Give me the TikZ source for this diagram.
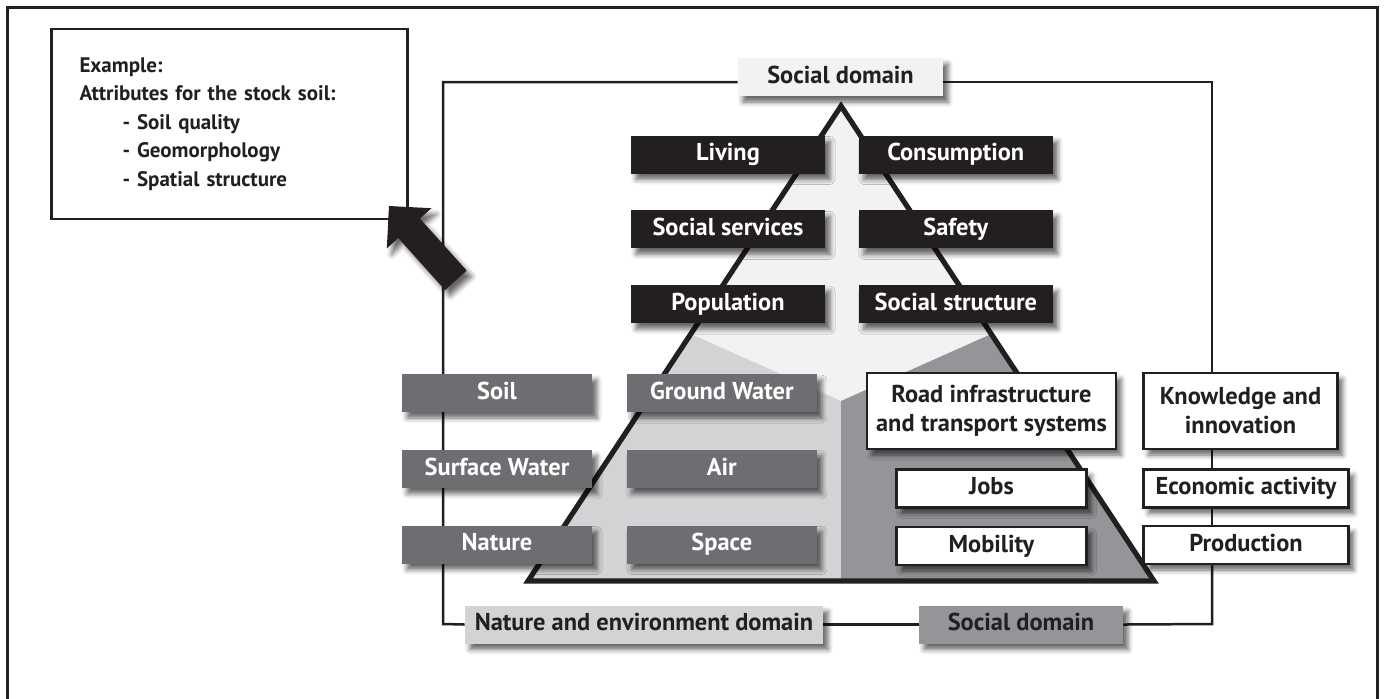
\documentclass[tikz,border=0pt]{standalone}
\usepackage{fontspec}
\setmainfont{PT Sans}
\usetikzlibrary{positioning,shadows.blur,backgrounds}
\definecolor{inkblack}{HTML}{231F20}
\definecolor{darkgrey}{HTML}{6D6E71}
\definecolor{midgrey}{HTML}{939598}
\definecolor{lightgrey}{HTML}{D1D3D4}
\definecolor{palegrey}{HTML}{F1F2F2}
\tikzstyle{base} = [rectangle, text centered, align=center, font=\fontsize{12.2}{14.5}\selectfont\bfseries, text height=9pt, text depth=2.8pt, minimum height=19pt, inner sep=2pt, blur shadow={shadow xshift=2.5pt, shadow yshift=-3pt, shadow blur radius=2.5pt, shadow opacity=60}]
\tikzstyle{block} = [base, fill=inkblack, text=white, minimum width=97pt]
\tikzstyle{blockg} = [base, fill=darkgrey, text=white, minimum width=95pt]
\tikzstyle{blockw} = [base, draw=inkblack, line width=1.25pt, fill=white, text=inkblack, minimum width=95pt]
\tikzstyle{blockw2} = [blockw, text height=, text depth=, minimum height=38pt]
\tikzstyle{blockd} = [base, text=inkblack]
\tikzstyle{exbox} = [rectangle, draw=inkblack, line width=1.25pt, fill=white, text=inkblack, text width=150pt, inner xsep=14pt, minimum height=95pt, align=left, font=\fontsize{10.5}{14.25}\selectfont\bfseries]
\tikzstyle{line} = [draw=inkblack, line width=1.25pt]
\begin{document}
\begin{tikzpicture}[x=0.5pt, y=-0.5pt]
    \useasboundingbox (0,0) rectangle (1384,698);
    \draw[inkblack, line width=1.5pt] (7,7) rectangle (1377,706);
    \node [exbox] (example) at (229.5,124) {Example:\\ Attributes for the stock soil:\\ \hspace*{21.5pt}- Soil quality\\ \hspace*{21.5pt}- Geomorphology\\ \hspace*{21.5pt}- Spatial structure};
    % pyramid
    \coordinate (apex) at (841,106);
    \coordinate (bl) at (528,581);
    \coordinate (br) at (1154,581);
    \fill[palegrey] (apex) -- (br) -- (bl) -- cycle;
    \fill[lightgrey] (690.8,334) -- (841,401) -- (841,581) -- (bl) -- cycle;
    \fill[midgrey] (841,401) -- (991.2,334) -- (br) -- (841,581) -- cycle;
    \draw[inkblack, line width=2.6pt, line join=miter] (apex) -- (br) -- (bl) -- cycle;
    % social domain
    \node [blockd, fill=palegrey, minimum width=102.5pt] (sdtop) at (840.5,77) {Social domain};
    \node [block] (living) at (728,154.5) {Living};
    \node [block, right=16.5pt of living] (consumption) {Consumption};
    \node [block, below=18pt of living] (socserv) {Social services};
    \node [block, below=18pt of consumption] (safety) {Safety};
    \node [block, below=18pt of socserv] (population) {Population};
    \node [block, below=18pt of safety] (socstruct) {Social structure};
    % nature and environment
    \node [blockg] (soil) at (497,393) {Soil};
    \node [blockg, below=18.5pt of soil] (surface) {Surface Water};
    \node [blockg, below=18.5pt of surface] (nature) {Nature};
    \node [blockg, right=17pt of soil] (ground) {Ground Water};
    \node [blockg, below=18.5pt of ground] (air) {Air};
    \node [blockg, below=18.5pt of air] (space) {Space};
    % economic domain
    \node [blockw2, minimum width=124.5pt] (road) at (991.5,411) {Road infrastructure\\and transport systems};
    \node [blockw, below=9pt of road] (jobs) {Jobs};
    \node [blockw, below=8.5pt of jobs] (mobility) {Mobility};
    \node [blockw2, right=12.5pt of road, minimum width=97pt] (knowledge) {Knowledge and\\innovation};
    \node [blockw, below=9pt of knowledge.south west, anchor=north west, minimum width=102.5pt] (econ) {Economic activity};
    \node [blockw, below=8pt of econ, minimum width=102.5pt] (production) {Production};
    % domain labels
    \node [blockd, fill=lightgrey, minimum width=179pt] (natenv) at (644,624.5) {Nature and environment domain};
    \node [blockd, fill=midgrey, minimum width=102pt] (sdbot) at (1021,624.5) {Social domain};
    % arrow to the example
    \fill[inkblack, blur shadow={shadow xshift=2.5pt, shadow yshift=-3pt, shadow blur radius=2.5pt, shadow opacity=60}] (389,206) -- (431.4,208.2) -- (419.9,218.6) -- (466.7,270.6) -- (445.1,290) -- (398.3,238) -- (386.8,248.4) -- cycle;
    % frame
    \coordinate (ftl) at (443,82);
    \coordinate (fbl) at (443,624);
    \coordinate (ftr) at (1212,82);
    \coordinate (fbr) at (1212,624);
    \begin{scope}[on background layer]
    \path [line] (sdtop.west |- ftl) -- (ftl) -- (fbl) -- (natenv.west);
    \path [line] (natenv.east) -- (sdbot.west);
    \path [line] (sdbot.east) -- (fbr) -- (ftr |- production.south);
    \path [line] (ftr |- production.north) -- (ftr |- econ.south);
    \path [line] (ftr |- econ.north) -- (ftr |- knowledge.south);
    \path [line] (ftr |- knowledge.north) -- (ftr) -- (sdtop.east |- ftr);
    \end{scope}
\end{tikzpicture}
\end{document}
